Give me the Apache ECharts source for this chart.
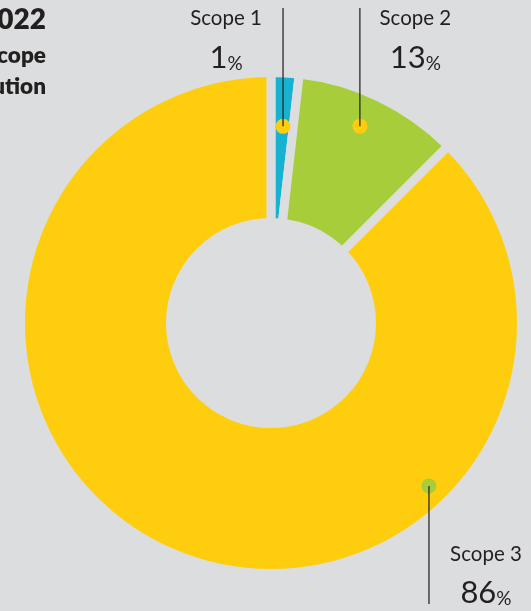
<!DOCTYPE html>
<html>
<head>
<meta charset="utf-8">
<script src="https://cdn.jsdelivr.net/npm/echarts@6/dist/echarts.min.js"></script>
<style>
html,body{margin:0;padding:0;background:#dcdddf;}
#c{width:531px;height:611px;}
</style>
</head>
<body>
<div id="c"></div>
<script>
// ---- data ----
const categories = ['Scope 1', 'Scope 2', 'Scope 3'];
const percentLabels = [1, 13, 86];            // printed values
const sliceShare = [1.8, 10.7, 87.5];         // slice sizes as drawn in the picture
const sliceColors = ['#17b2d0', '#a7ce3a', '#fecd0e'];
const dotColors = ['#fecd0e', '#fecd0e', '#a7ce3a'];
const dotRadius = [197, 216, 227];            // polar radius of marker dot
const dotAngle = [3.5, 24.3, 135.9];          // polar angle (deg, clockwise from top)
const titleLines = ['2022', 'by Scope', 'Distribution'];

const BG = '#dcdddf';
const TXT = '#231f20';
const CX = 271, CY = 323, RO = 250.5, RI = 100.5;

const chart = echarts.init(document.getElementById('c'), null, {renderer: 'canvas'});
chart.setOption({
  backgroundColor: BG,
  animation: false,
  polar: {center: [CX, CY], radius: RO},
  radiusAxis: {min: 0, max: RO, show: false},
  angleAxis: {min: 0, max: 360, startAngle: 90, clockwise: true, show: false},
  series: [
    {
      type: 'pie',
      center: [CX, CY],
      radius: [RI, RO],
      startAngle: 90,
      clockwise: true,
      silent: true,
      label: {show: false},
      labelLine: {show: false},
      emphasis: {disabled: true},
      itemStyle: {borderColor: BG, borderWidth: 9},
      data: categories.map((c, i) => ({name: c, value: sliceShare[i], itemStyle: {color: sliceColors[i]}}))
    },
    {
      type: 'scatter',
      coordinateSystem: 'polar',
      silent: true,
      symbol: 'circle',
      symbolSize: 15,
      z: 5,
      itemStyle: {opacity: 1},
      data: dotRadius.map((r, i) => ({value: [r, dotAngle[i]], itemStyle: {color: dotColors[i], opacity: 1}}))
    }
  ]
});

function px(i) {
  let p = null;
  try { p = chart.convertToPixel({seriesIndex: 1}, [dotRadius[i], dotAngle[i]]); } catch (e) {}
  if (!p || isNaN(p[0])) {
    const a = dotAngle[i] * Math.PI / 180;
    p = [CX + dotRadius[i] * Math.sin(a), CY - dotRadius[i] * Math.cos(a)];
  }
  return p;
}

// label layout: horizontal offset from leader line, line end, baselines
const layout = [
  {dx: -57, lineEnd: 8, scopeBase: 25, numBase: 68},
  {dx: 55.5, lineEnd: 8, scopeBase: 25, numBase: 68},
  {dx: 57, lineEnd: 604, scopeBase: 561, numBase: 603}
];

const graphics = [];
categories.forEach((c, i) => {
  const p = px(i);
  const L = layout[i];
  graphics.push({
    type: 'line', z: 20, silent: true,
    shape: {x1: p[0], y1: p[1], x2: p[0], y2: L.lineEnd},
    style: {stroke: '#2a2a2a', lineWidth: 1.3}
  });
  const lx = p[0] + L.dx;
  graphics.push({
    type: 'text', z: 20, silent: true, x: lx, y: L.scopeBase - 0.3225 * 20.5,
    style: {text: c, fill: TXT, font: '400 20.5px Lato', align: 'center', verticalAlign: 'middle'}
  });
  graphics.push({
    type: 'text', z: 20, silent: true, x: lx, y: L.numBase + 5.3,
    style: {
      text: '{n|' + percentLabels[i] + '}{p|%}', align: 'center', verticalAlign: 'bottom',
      rich: {
        n: {fontFamily: 'Lato', fontWeight: 400, fontSize: 31, lineHeight: 31, verticalAlign: 'bottom', fill: TXT, color: TXT},
        p: {fontFamily: 'Lato', fontWeight: 400, fontSize: 19, lineHeight: 23.4, verticalAlign: 'bottom', fill: TXT, color: TXT}
      }
    }
  });
});

const titleSizes = [28, 22.5, 22.5];
const titleBases = [29, 63, 94];
titleLines.forEach((t, i) => {
  graphics.push({
    type: 'text', z: 20, silent: true, x: 46, y: titleBases[i] - 0.3225 * titleSizes[i],
    style: {text: t, fill: TXT, font: '800 ' + titleSizes[i] + 'px Lato', align: 'right', verticalAlign: 'middle'}
  });
});

chart.setOption({graphic: graphics});
</script>
</body>
</html>
